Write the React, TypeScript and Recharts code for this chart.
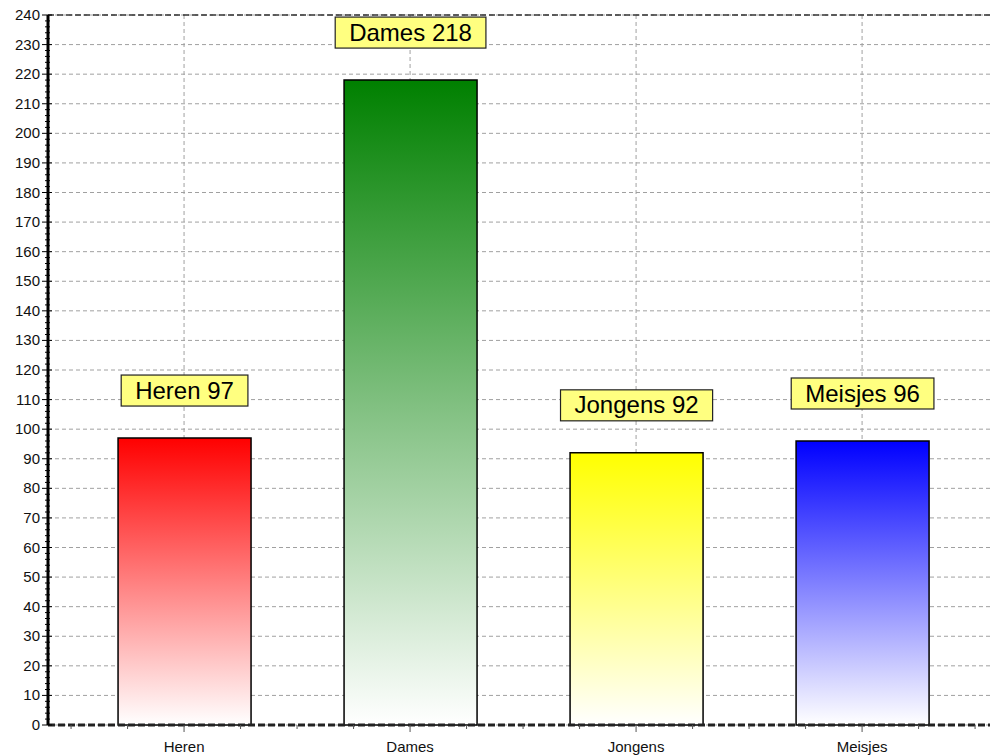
import { BarChart, Bar, XAxis, YAxis, CartesianGrid, Cell, LabelList, ReferenceLine } from "recharts"

const categories = ["Heren", "Dames", "Jongens", "Meisjes"]
const counts = [97, 218, 92, 96]
const barColors = ["#ff0000", "#008000", "#ffff00", "#0000ff"]
const yLabels = [0, 10, 20, 30, 40, 50, 60, 70, 80, 90, 100, 110, 120, 130, 140, 150, 160, 170, 180, 190, 200, 210, 220, 230, 240]
const xPositions = [1, 2, 3, 4]

const FONT = "'Liberation Sans', Arial, sans-serif"
const Y_DOMAIN: [number, number] = [0, 240]
const X_DOMAIN: [number, number] = [0.398, 4.566]

const data = categories.map((name, i) => ({ pos: xPositions[i], name, value: counts[i] }))

// minor tick positions (every 2 on y, every quarter on x)
const yTicks: number[] = []
for (let v = 0; v <= 240; v += 2) yTicks.push(v)
const xTicks: number[] = []
for (let v = 0.5; v <= 4.5; v += 0.25) xTicks.push(v)

// recharts 3 scale objects differ between versions, try what is there
function scaleValue(axis: any, v: number, fallback: () => number) {
  const s = axis?.scale
  if (typeof s === "function") return s(v)
  if (s && typeof s.map === "function") {
    const r = s.map(v)
    if (typeof r === "number" && !isNaN(r)) return r
  }
  return fallback()
}

let measureCtx: CanvasRenderingContext2D | null = null
function textWidth(text: string, font: string) {
  if (!measureCtx) measureCtx = document.createElement("canvas").getContext("2d")
  if (!measureCtx) return text.length * 12
  measureCtx.font = font
  return measureCtx.measureText(text).width
}

function YTick(props: any) {
  const { x, y, payload } = props
  const v = payload.value
  const major = v % 10 === 0
  return (
    <g>
      <line x1={major ? x - 6 : x - 3} x2={major ? x + 4 : x + 2} y1={y} y2={y} stroke="#000" strokeWidth={1} />
      {major && (
        <text x={x - 8} y={y} dy={5} textAnchor="end" fontFamily={FONT} fontSize={15} fill="#111">
          {v}
        </text>
      )}
    </g>
  )
}

function XTick(props: any) {
  const { x, y, payload } = props
  const v = payload.value
  const idx = xPositions.indexOf(v)
  const major = idx >= 0
  return (
    <g>
      <line x1={x} x2={x} y1={y} y2={y + (major ? 7 : 4)} stroke="#555" strokeWidth={1} />
      {major && (
        <text x={x} y={y + 27} textAnchor="middle" fontFamily={FONT} fontSize={15} fill="#111">
          {categories[idx]}
        </text>
      )}
    </g>
  )
}

function ValueBox(props: any) {
  const { x, y, width, value, index } = props
  const label = `${categories[index]} ${value}`
  const w = textWidth(label, `24px ${FONT}`) + 28
  const h = 31
  const cx = x + width / 2
  const bottom = y - 32
  return (
    <g>
      <rect x={cx - w / 2} y={bottom - h} width={w} height={h} fill="#ffff80" stroke="#222" strokeWidth={1.2} />
      <text x={cx} y={bottom - h / 2} dy={8} textAnchor="middle" fontFamily={FONT} fontSize={24} fill="#000">
        {label}
      </text>
    </g>
  )
}

export default function App() {
  return (
    <div style={{ position: "absolute", left: 0, top: 0, background: "#fff" }}>
      <BarChart width={990} height={756} data={data} margin={{ top: 15, right: 0, bottom: 0, left: 0 }}>
        <defs>
          {barColors.map((c, i) => (
            <linearGradient key={i} id={`barGrad${i}`} x1="0" y1="0" x2="0" y2="1">
              <stop offset="0%" stopColor={c} stopOpacity={1} />
              <stop offset="100%" stopColor="#ffffff" stopOpacity={1} />
            </linearGradient>
          ))}
        </defs>
        <CartesianGrid
          stroke="#a0a0a0"
          strokeDasharray="4 3"
          horizontalCoordinatesGenerator={({ yAxis, offset }: any) =>
            yLabels.map((v) =>
              scaleValue(yAxis, v, () => offset.top + offset.height * (1 - (v - Y_DOMAIN[0]) / (Y_DOMAIN[1] - Y_DOMAIN[0])))
            )
          }
          verticalCoordinatesGenerator={({ xAxis, offset }: any) =>
            xPositions.map((v) =>
              scaleValue(xAxis, v, () => offset.left + (offset.width * (v - X_DOMAIN[0])) / (X_DOMAIN[1] - X_DOMAIN[0]))
            )
          }
        />
        <XAxis
          dataKey="pos"
          type="number"
          domain={X_DOMAIN}
          allowDataOverflow
          ticks={xTicks}
          interval={0}
          height={31}
          tickSize={0}
          tickMargin={0}
          tickLine={false}
          tick={<XTick />}
          axisLine={{ stroke: "#222", strokeWidth: 3, strokeDasharray: "7 3" }}
        />
        <YAxis
          type="number"
          domain={Y_DOMAIN}
          ticks={yTicks}
          interval={0}
          width={48}
          tickSize={0}
          tickMargin={0}
          tickLine={false}
          tick={<YTick />}
          axisLine={{ stroke: "#000", strokeWidth: 3 }}
        />
        <ReferenceLine y={240} stroke="#333" strokeWidth={1.5} strokeDasharray="6 3" />
        <Bar dataKey="value" barSize={133} stroke="#000" strokeWidth={1.5} isAnimationActive={false}>
          {data.map((d, i) => (
            <Cell key={d.name} fill={`url(#barGrad${i})`} />
          ))}
          <LabelList dataKey="value" content={<ValueBox />} />
        </Bar>
      </BarChart>
    </div>
  )
}
